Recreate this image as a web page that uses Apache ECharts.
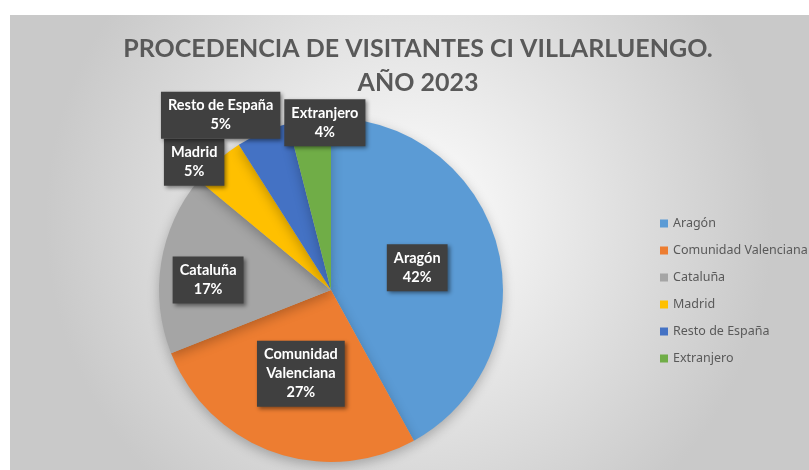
<!DOCTYPE html>
<html>
<head>
<meta charset="utf-8">
<script src="https://cdn.jsdelivr.net/npm/echarts@6/dist/echarts.min.js"></script>
<style>
  html, body { margin: 0; padding: 0; background: #fff; }
  #chart { position: absolute; left: 10px; top: 15px; width: 799px; height: 455px; }
</style>
</head>
<body>
<div id="chart"></div>
<script>
// Datos
const categories = ['Aragón', 'Comunidad Valenciana', 'Cataluña', 'Madrid', 'Resto de España', 'Extranjero'];
const values = [42, 27, 17, 5, 5, 4];
const labelNames = ['Aragón', 'Comunidad\nValenciana', 'Cataluña', 'Madrid', 'Resto de España', 'Extranjero'];

const colors = ['#5B9BD5', '#ED7D31', '#A5A5A5', '#FFC000', '#4472C4', '#70AD47'];
// small nudges so labels sit where Excel put them
const labelOffsets = [[0, 0], [0, 0], [-35, 4], [-78, -61], [-75, -93], [5, -79]];

const chart = echarts.init(document.getElementById('chart'));

const data = categories.map((name, i) => ({
    name: name,
    value: values[i],
    label: { offset: labelOffsets[i] }
}));

const option = {
    backgroundColor: {
        type: 'radial', x: 0.5, y: 0.45, r: 0.8,
        colorStops: [
            { offset: 0, color: '#ffffff' },
            { offset: 1, color: '#c9c9c9' }
        ]
    },
    color: colors,
    title: {
        text: 'PROCEDENCIA DE VISITANTES CI VILLARLUENGO.\nAÑO 2023',
        left: 403, top: 12, textAlign: 'center',
        textStyle: {
            fontFamily: 'Lato, sans-serif',
            fontWeight: 'bold', fontSize: 25, lineHeight: 34, color: '#595959'
        }
    },
    legend: {
        orient: 'vertical',
        left: 645, top: 197,
        itemWidth: 8, itemHeight: 8, itemGap: 14,
        icon: 'rect',
        textStyle: { fontFamily: 'Noto Sans, sans-serif', fontSize: 12.5, color: '#595959' },
        data: categories
    },
    series: [{
        type: 'pie',
        center: [321, 275],
        radius: 172,
        startAngle: 90,
        clockwise: true,
        avoidLabelOverlap: false,
        itemStyle: {
            shadowBlur: 12, shadowOffsetY: 4, shadowColor: 'rgba(0,0,0,0.25)'
        },
        label: {
            show: true,
            position: 'inside',
            formatter: p => labelNames[p.dataIndex] + '\n' + p.value + '%',
            color: '#fff',
            fontFamily: 'Lato, sans-serif',
            fontWeight: 'bold', fontSize: 14.5, lineHeight: 19,
            backgroundColor: '#404040',
            padding: [5, 7, 4, 7],
            shadowBlur: 4, shadowOffsetX: 2, shadowOffsetY: 2,
            shadowColor: 'rgba(0,0,0,0.45)'
        },
        labelLine: { show: false },
        labelLayout: { hideOverlap: false },
        emphasis: { disabled: true },
        data: data
    }]
};

chart.setOption(option);
</script>
</body>
</html>
